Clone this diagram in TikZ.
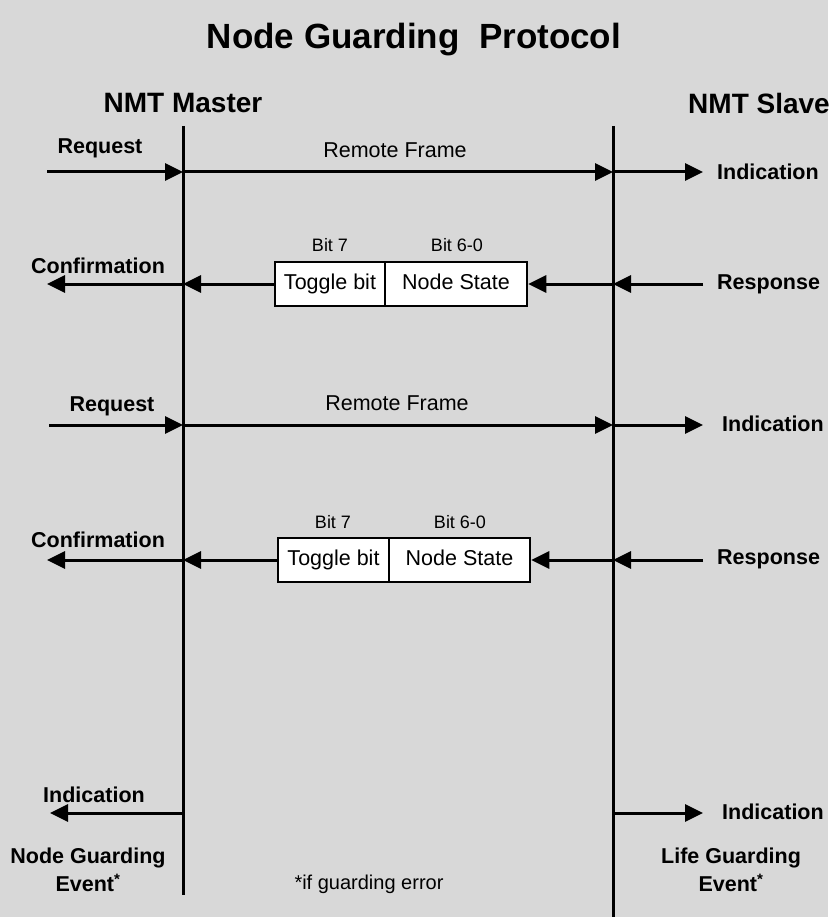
\documentclass[tikz,border=0pt]{standalone}
\usepackage{fontspec}
\setmainfont{Liberation Sans}
\usepackage{tikz}
\usetikzlibrary{arrows.meta, positioning}
\definecolor{sheetgray}{HTML}{D8D8D8}
\tikzset{
  party/.style={font=\fontsize{28}{28}\selectfont\bfseries},
  lbl/.style={font=\fontsize{21.5}{28}\selectfont\bfseries, align=center},
  msg/.style={font=\fontsize{21.5}{22}\selectfont},
  bitlbl/.style={font=\fontsize{18}{18}\selectfont},
  field/.style={draw, line width=2.5pt, fill=white, minimum height=44pt, inner sep=0pt,
    text height=16pt, text depth=5pt, font=\fontsize{21.5}{22}\selectfont},
  lifeline/.style={line width=3pt},
  sig/.style={line width=3pt, -{Triangle[length=18pt,width=17pt]}},
}

\begin{document}
\begin{tikzpicture}[x=1pt, y=-1pt]
  \fill[sheetgray] (0,0) rectangle (828,917);
  \useasboundingbox (0,0) rectangle (828,917);

  \node[font=\fontsize{35}{35}\selectfont\bfseries] (title) at (414,40) {Node Guarding\ \ Protocol};
  \node[party] (master) at (183,103) {NMT Master};
  \node[party, anchor=west, inner sep=0pt] (slave) at (688,103) {NMT Slave};

  % lifelines
  \coordinate (mtop) at (183,126);
  \coordinate (mbot) at (183,895);
  \coordinate (stop) at (613,126);
  \coordinate (sbot) at (613,920);
  \draw[lifeline] (mtop) -- (mbot);
  \draw[lifeline] (stop) -- (sbot);

  % first request
  \coordinate (req1) at (47,172);
  \coordinate (m1) at (183,172);
  \coordinate (s1) at (613,172);
  \coordinate (ind1) at (703,172);
  \draw[sig] (req1) -- (m1);
  \draw[sig] (m1) -- (s1);
  \draw[sig] (s1) -- (ind1);
  \node[lbl] (reqA) at (100,148) {Request};
  \node[msg] (rfA) at (395,150) {Remote Frame};
  \node[lbl, anchor=west, inner sep=0pt] (indA) at (717,172) {Indication};

  % first response
  \node[field, minimum width=110pt] (tog1) at (330,284) {Toggle bit};
  \node[field, minimum width=142pt, right=-2.5pt of tog1] (st1) {Node State};
  \node[bitlbl] (b7a) at (330,245) {Bit 7};
  \node[bitlbl] (b6a) at (457,245) {Bit 6-0};
  \coordinate (rsp1) at (703,284);
  \coordinate (s2) at (613,284);
  \coordinate (m2) at (183,284);
  \coordinate (cnf1) at (47,284);
  \draw[sig] (rsp1) -- (s2);
  \draw[sig] (s2) -- (st1.east);
  \draw[sig] (tog1.west) -- (m2);
  \draw[sig] (m2) -- (cnf1);
  \node[lbl] (cnfA) at (98,266) {Confirmation};
  \node[lbl, anchor=west, inner sep=0pt] (rspA) at (717,284) {Response};

  % second request
  \coordinate (req2) at (49,425);
  \coordinate (m3) at (183,425);
  \coordinate (s3) at (613,425);
  \coordinate (ind2) at (703,425);
  \draw[sig] (req2) -- (m3);
  \draw[sig] (m3) -- (s3);
  \draw[sig] (s3) -- (ind2);
  \node[lbl] (reqB) at (112,406) {Request};
  \node[msg] (rfB) at (397,403) {Remote Frame};
  \node[lbl, anchor=west, inner sep=0pt] (indB) at (722,424) {Indication};

  % second response
  \node[field, minimum width=111pt] (tog2) at (333.5,560) {Toggle bit};
  \node[field, minimum width=141pt, right=-2.5pt of tog2] (st2) {Node State};
  \node[bitlbl] (b7b) at (333,522) {Bit 7};
  \node[bitlbl] (b6b) at (460,522) {Bit 6-0};
  \coordinate (rsp2) at (703,560);
  \coordinate (s4) at (613,560);
  \coordinate (m4) at (183,560);
  \coordinate (cnf2) at (47,560);
  \draw[sig] (rsp2) -- (s4);
  \draw[sig] (s4) -- (st2.east);
  \draw[sig] (tog2.west) -- (m4);
  \draw[sig] (m4) -- (cnf2);
  \node[lbl] (cnfB) at (98,540) {Confirmation};
  \node[lbl, anchor=west, inner sep=0pt] (rspB) at (717,559) {Response};

  % guarding events
  \coordinate (m5) at (183,813);
  \coordinate (ev1) at (50,813);
  \coordinate (s5) at (613,813);
  \coordinate (ev2) at (703,813);
  \draw[sig] (m5) -- (ev1);
  \draw[sig] (s5) -- (ev2);
  \node[lbl] (indC) at (94,795) {Indication};
  \node[lbl, anchor=west, inner sep=0pt] (indD) at (722,812) {Indication};
  \node[lbl] (ngev) at (88,870) {Node Guarding\\Event\textsuperscript{*}};
  \node[lbl] (lgev) at (731,870) {Life Guarding\\Event\textsuperscript{*}};
  \node[msg, font=\fontsize{20}{20}\selectfont] (note) at (369,884) {*if guarding error};
\end{tikzpicture}
\end{document}
